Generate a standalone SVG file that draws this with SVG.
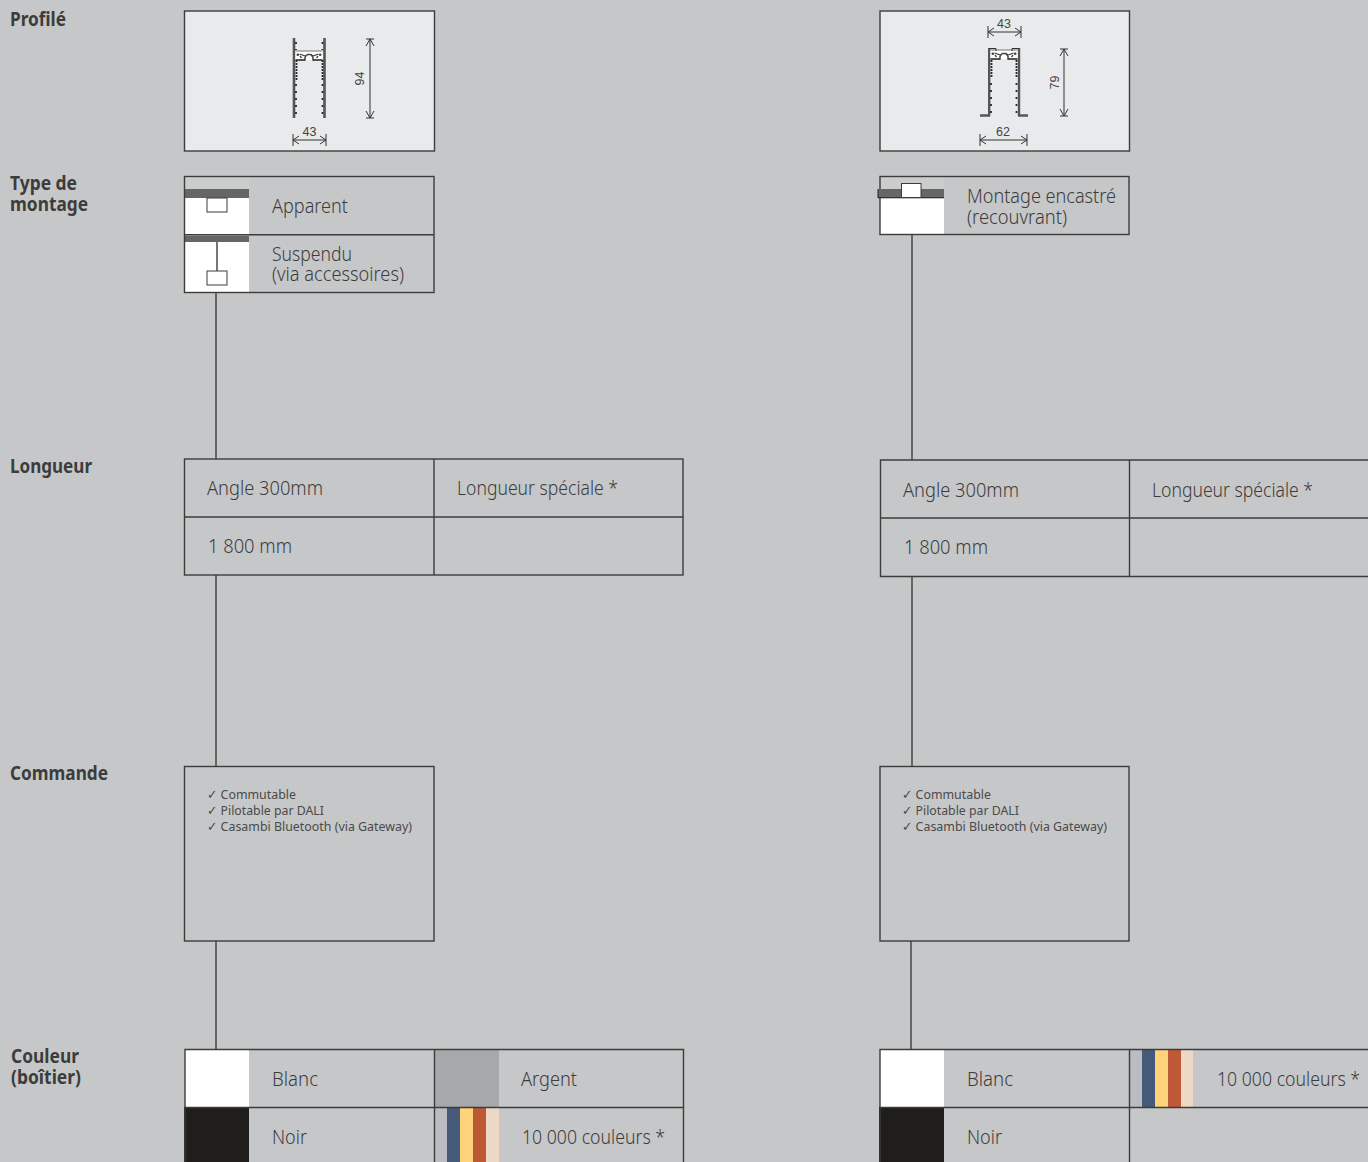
<svg xmlns="http://www.w3.org/2000/svg" width="1368" height="1162" viewBox="0 0 1368 1162">
<style>
text{font-family:"Noto Sans","Open Sans","Liberation Sans",sans-serif;fill:#3c3c3b}
.h{font-weight:700;font-size:19px;fill:#3c3c3b}
.t{font-size:20px;font-weight:300}
.s{font-size:13px;fill:#4a4a49}
.d{font-family:"Liberation Sans",Arial,sans-serif;font-size:12.500px;fill:#444}
.b{fill:none;stroke:#3c3c3b;stroke-width:1.400}
.l{stroke:#3c3c3b;stroke-width:1.400;fill:none}
.panel{fill:#e9eaeb;stroke:#3c3c3b;stroke-width:1.400}
.dim{stroke:#333;stroke-width:1;fill:none}
.wall{fill:#555}
.tooth{stroke:#2a2a2a;stroke-width:1.800;fill:none}
.band{fill:#666}
.w{fill:#fff}
.mini{fill:#fff;stroke:#3c3c3b;stroke-width:1}
</style>
<defs>
<g id="head">
<rect x="2" y="1" width="27" height="9" fill="#fff"/>
<path d="M2 1H29" stroke="#777" stroke-width="1" fill="none"/>
<path d="M2 10H11.500V7M19.500 7V10H29" stroke="#222" stroke-width="1.300" fill="none"/>
<path d="M6 4L12 6L14 4.500H17.500L19.500 6L25 4M8 8L6.500 6M23 8L24.500 6M11.500 7L13.500 5M19.500 7L17.500 5" stroke="#444" stroke-width="1.300" fill="none"/>
<circle cx="4.300" cy="4.800" r="1.300" fill="#444"/>
<circle cx="26.700" cy="4.800" r="1.300" fill="#444"/>
</g>
</defs>
<rect width="1368" height="1162" fill="#c6c7c9"/>
<g id="labels">
<text class="h" x="10" y="26" textLength="56" lengthAdjust="spacingAndGlyphs">Profilé</text>
<text class="h" x="10" y="190" textLength="67" lengthAdjust="spacingAndGlyphs">Type de</text>
<text class="h" x="10" y="211" textLength="78" lengthAdjust="spacingAndGlyphs">montage</text>
<text class="h" x="10" y="473" textLength="82" lengthAdjust="spacingAndGlyphs">Longueur</text>
<text class="h" x="10" y="780" textLength="98" lengthAdjust="spacingAndGlyphs">Commande</text>
<text class="h" x="11" y="1063" textLength="68" lengthAdjust="spacingAndGlyphs">Couleur</text>
<text class="h" x="11" y="1084" textLength="70" lengthAdjust="spacingAndGlyphs">(boîtier)</text>
</g>
<g id="connectors">
<path class="l" d="M216 293V459M912 235V460M216 575V766M912 577V766M216 941V1049M911 941V1049"/>
</g>
<g id="profile-left">
<rect class="panel" x="184.500" y="11" width="250" height="140"/>
<path class="wall" d="M292.700 38h2.600v80h-2.600zM323.200 38h2.600v80h-2.600z"/>
<use href="#head" x="293.500" y="50"/>
<path class="tooth" stroke-dasharray="2 1" d="M296.500 60V80M322.500 60V80"/>
<path class="tooth" stroke-dasharray="2 5" stroke-width="1.500" d="M296 84V116M322.500 84V116M296 42V50M322.500 42V50"/>
<path class="dim" d="M370 39V118M366 39H374M366 118H374M366 111L370 118L374 111M366 46L370 39L374 46M293 134V146M326 134V146M293 140H326M299 136L293 140L299 144M320 136L326 140L320 144"/>
<text class="d" x="309.500" y="136" text-anchor="middle">43</text>
<text class="d" transform="translate(364 78.500) rotate(-90)" text-anchor="middle">94</text>
</g>
<g id="profile-right">
<rect class="panel" x="880" y="11" width="249.500" height="140"/>
<path class="wall" d="M988 48h2.400v68h-2.400zM1017.800 48h2.400v68h-2.400zM980 114.300h10v2.400h-10zM1018 114.300h10v2.400h-10z"/>
<use href="#head" x="988.500" y="49"/>
<path d="M989 48.500H996V51M1012 51V48.500H1019" stroke="#333" stroke-width="1" fill="none"/>
<path class="tooth" stroke-dasharray="2 1" d="M991.500 60V77M1016.500 60V77"/>
<path class="tooth" stroke-dasharray="2 5" stroke-width="1.500" d="M991 83V113M1016.500 83V113"/>
<path class="dim" d="M1064 49V116M1060 49H1068M1060 116H1068M1060 109L1064 116L1068 109M1060 56L1064 49L1068 56M988 26V38M1021 26V38M988 32H1021M994 28L988 32L994 36M1015 28L1021 32L1015 36M980 134V146M1027 134V146M980 140H1027M986 136L980 140L986 144M1021 136L1027 140L1021 144"/>
<text class="d" x="1004" y="27.500" text-anchor="middle">43</text>
<text class="d" x="1003" y="136" text-anchor="middle">62</text>
<text class="d" transform="translate(1059 82.500) rotate(-90)" text-anchor="middle">79</text>
</g>
<g id="mount-left">
<rect x="185" y="177" width="64" height="12" fill="#cbcccd"/>
<rect class="band" x="184" y="189" width="65" height="9"/>
<rect class="w" x="185" y="198" width="64" height="36"/>
<rect class="mini" x="207" y="198" width="20" height="14"/>
<rect class="band" x="184" y="236" width="65" height="6"/>
<rect class="w" x="185" y="242" width="64" height="50"/>
<path class="l" d="M217 242V271" stroke-width="1"/>
<rect class="mini" x="207" y="271" width="20" height="14"/>
<rect class="b" x="184.500" y="176.500" width="249.500" height="116"/>
<path class="l" d="M184.500 234.800H434"/>
<text class="t" x="272" y="213" textLength="76" lengthAdjust="spacingAndGlyphs">Apparent</text>
<text class="t" x="272" y="261" textLength="80" lengthAdjust="spacingAndGlyphs">Suspendu</text>
<text class="t" x="272" y="281" textLength="132" lengthAdjust="spacingAndGlyphs">(via accessoires)</text>
</g>
<g id="mount-right">
<rect x="881" y="177" width="63" height="12" fill="#cbcccd"/>
<rect class="w" x="880" y="198" width="64" height="36"/>
<rect class="b" x="880" y="176.500" width="249" height="58"/>
<rect class="band" x="878" y="189" width="66" height="9"/>
<path d="M878 197.800H944" stroke="#222" stroke-width="1"/>
<path d="M878 189V198" stroke="#222" stroke-width="1"/>
<rect class="mini" x="901.500" y="183.500" width="19.500" height="14"/>
<text class="t" x="967" y="203" textLength="149" lengthAdjust="spacingAndGlyphs">Montage encastré</text>
<text class="t" x="967" y="224" textLength="100" lengthAdjust="spacingAndGlyphs">(recouvrant)</text>
</g>
<g id="length-left">
<rect class="b" x="184.500" y="459" width="498.500" height="116"/>
<path class="l" d="M184.500 517H683M434 459V575"/>
<text class="t" x="207" y="495" textLength="116" lengthAdjust="spacingAndGlyphs">Angle 300mm</text>
<text class="t" x="457" y="495" textLength="161" lengthAdjust="spacingAndGlyphs">Longueur spéciale *</text>
<text class="t" x="208" y="553" textLength="84" lengthAdjust="spacingAndGlyphs">1 800 mm</text>
</g>
<g id="length-right">
<path class="l" d="M1368 460H880.500V576.500H1368M880.500 518H1368M1129.500 460V576.500"/>
<text class="t" x="903" y="497" textLength="116" lengthAdjust="spacingAndGlyphs">Angle 300mm</text>
<text class="t" x="1152" y="497" textLength="161" lengthAdjust="spacingAndGlyphs">Longueur spéciale *</text>
<text class="t" x="904" y="554" textLength="84" lengthAdjust="spacingAndGlyphs">1 800 mm</text>
</g>
<g id="control-left">
<rect class="b" x="184.500" y="766.500" width="249.500" height="174.500"/>
<text class="s" x="207" y="799" textLength="89" lengthAdjust="spacingAndGlyphs"><tspan font-family="DejaVu Sans">✓</tspan> Commutable</text>
<text class="s" x="207" y="815" textLength="117" lengthAdjust="spacingAndGlyphs"><tspan font-family="DejaVu Sans">✓</tspan> Pilotable par DALI</text>
<text class="s" x="207" y="831" textLength="205" lengthAdjust="spacingAndGlyphs"><tspan font-family="DejaVu Sans">✓</tspan> Casambi Bluetooth (via Gateway)</text>
</g>
<g id="control-right">
<rect class="b" x="880" y="766.500" width="249" height="174.500"/>
<text class="s" x="902" y="799" textLength="89" lengthAdjust="spacingAndGlyphs"><tspan font-family="DejaVu Sans">✓</tspan> Commutable</text>
<text class="s" x="902" y="815" textLength="117" lengthAdjust="spacingAndGlyphs"><tspan font-family="DejaVu Sans">✓</tspan> Pilotable par DALI</text>
<text class="s" x="902" y="831" textLength="205" lengthAdjust="spacingAndGlyphs"><tspan font-family="DejaVu Sans">✓</tspan> Casambi Bluetooth (via Gateway)</text>
</g>
<g id="colour-left">
<rect class="w" x="185" y="1049" width="64" height="58"/>
<rect x="184" y="1107" width="65" height="55" fill="#1f1e1c"/>
<rect x="435" y="1049" width="64" height="58" fill="#a7a8aa"/>
<rect x="435" y="1108" width="12" height="54" fill="#b9bcc0"/>
<rect x="447" y="1108" width="13" height="54" fill="#455a78"/>
<rect x="460" y="1108" width="13" height="54" fill="#fdd27a"/>
<rect x="473" y="1108" width="13" height="54" fill="#bd5934"/>
<rect x="486" y="1108" width="13" height="54" fill="#ecd8c4"/>
<path class="l" d="M185 1162V1049.500H683.500V1162M185 1107.500H683.500M434.500 1049.500V1162"/>
<text class="t" x="272" y="1086" textLength="46" lengthAdjust="spacingAndGlyphs">Blanc</text>
<text class="t" x="272" y="1144" textLength="35" lengthAdjust="spacingAndGlyphs">Noir</text>
<text class="t" x="521" y="1086" textLength="56" lengthAdjust="spacingAndGlyphs">Argent</text>
<text class="t" x="522" y="1144" textLength="143" lengthAdjust="spacingAndGlyphs">10 000 couleurs *</text>
</g>
<g id="colour-right">
<rect class="w" x="880" y="1049" width="64" height="58"/>
<rect x="879" y="1107" width="65" height="55" fill="#1f1e1c"/>
<rect x="1130" y="1049" width="12" height="58" fill="#b9bcc0"/>
<rect x="1142" y="1049" width="13" height="58" fill="#455a78"/>
<rect x="1155" y="1049" width="13" height="58" fill="#fdd27a"/>
<rect x="1168" y="1049" width="13" height="58" fill="#bd5934"/>
<rect x="1181" y="1049" width="12" height="58" fill="#ecd8c4"/>
<path class="l" d="M880 1162V1049.500H1368M880 1107.500H1368M1129.500 1049.500V1162"/>
<text class="t" x="967" y="1086" textLength="46" lengthAdjust="spacingAndGlyphs">Blanc</text>
<text class="t" x="967" y="1144" textLength="35" lengthAdjust="spacingAndGlyphs">Noir</text>
<text class="t" x="1217" y="1086" textLength="143" lengthAdjust="spacingAndGlyphs">10 000 couleurs *</text>
</g>
</svg>
